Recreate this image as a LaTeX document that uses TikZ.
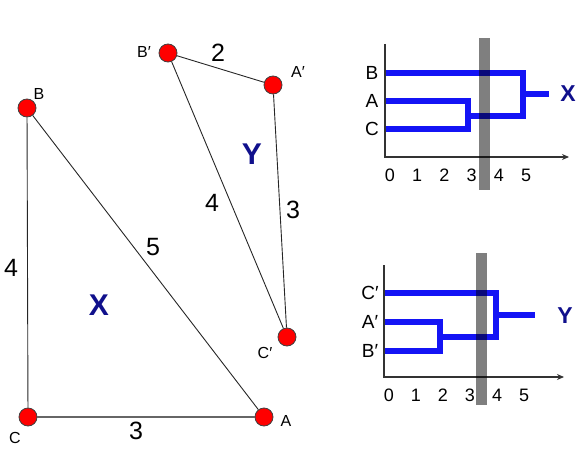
\documentclass[tikz,border=0pt]{standalone}
\usepackage{fontspec}
\setmainfont{Liberation Sans}
\usetikzlibrary{arrows.meta}

\definecolor{navy}{RGB}{16,16,140}
\definecolor{treeblue}{RGB}{20,20,245}

\tikzset{
	dot/.style={circle,fill=red,draw=black!75,line width=0.8pt,inner sep=0pt,minimum size=18pt},
	edge/.style={line width=0.9pt,draw=black!85},
	ptlabel/.style={inner sep=0pt,font=\fontsize{16}{16}\selectfont},
	dist/.style={inner sep=0pt,font=\fontsize{25}{25}\selectfont},
	grp/.style={inner sep=0pt,text=navy,font=\fontsize{30}{30}\selectfont\bfseries},
	treelabel/.style={inner sep=0pt,font=\fontsize{19}{19}\selectfont},
	ticklabel/.style={inner sep=0pt,font=\fontsize{18}{18}\selectfont},
	tree/.style={line width=6pt,draw=treeblue},
	axis/.style={line width=2.2pt,draw=black!80},
	cut/.style={fill=black,opacity=0.5},
}

\begin{document}
\begin{tikzpicture}[x=1pt,y=-1pt]
			\useasboundingbox (0,0) rectangle (581,452);
			
			% triangle X
			\node[dot] (B) at (27,108) {};
			\node[dot] (C) at (28,417) {};
			\node[dot] (A) at (264,417) {};
			\draw[edge] (B) -- (C);
			\draw[edge] (B) -- (A);
			\draw[line width=1.6pt,black!60] (C) -- (A);
			\node[ptlabel] (labB) at (39,94) {B};
			\node[ptlabel] (labC) at (15,438) {C};
			\node[ptlabel] (labA) at (286,421) {A};
			\node[dist] (dBC) at (11,268) {4};
			\node[dist] (dBA) at (153,247) {5};
			\node[dist] (dCA) at (136,431) {3};
			\node[grp] (grpX) at (99,305) {X};
			
			% triangle Y
			\node[dot] (Bp) at (168,53) {};
			\node[dot] (Ap) at (273,85) {};
			\node[dot] (Cp) at (287,337) {};
			\draw[edge] (Bp) -- (Ap);
			\draw[edge] (Bp) -- (Cp);
			\draw[edge] (Ap) -- (Cp);
			\node[ptlabel] (labBp) at (144,52) {B′};
			\node[ptlabel] (labAp) at (298,72) {A′};
			\node[ptlabel] (labCp) at (265,353) {C′};
			\node[dist] (dBpAp) at (218,53) {2};
			\node[dist] (dBpCp) at (212,203) {4};
			\node[dist] (dApCp) at (293,210) {3};
			\node[grp] (grpY) at (252,154) {Y};
			
			% dendrogram of X
			\draw[axis,-{Stealth[length=7pt,width=6pt]}] (385,44) -- (385,157) -- (569,157);
			\draw[tree] (386,73) -- (523,73) -- (523,116) -- (468,116);
			\draw[tree] (386,101) -- (468,101) -- (468,129) -- (386,129);
			\draw[tree] (523,94) -- (549,94);
			\fill[cut] (479,38) rectangle (490,190);
			\node[treelabel] (tB) at (372,73) {B};
			\node[treelabel] (tA) at (372,101) {A};
			\node[treelabel] (tC) at (372,129) {C};
			\foreach \v in {0,...,5}
				\node[ticklabel] (tx\v) at (390+27.2*\v,175) {\v};
			\node[grp,font=\fontsize{23}{23}\selectfont\bfseries] (treeX) at (568,94) {X};
			
			% dendrogram of Y
			\draw[axis,-{Stealth[length=7pt,width=6pt]}] (384,265) -- (384,377) -- (564,377);
			\draw[tree] (385,293) -- (496,293) -- (496,337) -- (440,337);
			\draw[tree] (385,322) -- (440,322) -- (440,351) -- (385,351);
			\draw[tree] (496,315) -- (535,315);
			\fill[cut] (476,253) rectangle (487,405);
			\node[treelabel] (tCp) at (370,293) {C′};
			\node[treelabel] (tAp) at (370,322) {A′};
			\node[treelabel] (tBp) at (370,351) {B′};
			\foreach \v in {0,...,5}
				\node[ticklabel] (ty\v) at (389+27*\v,395) {\v};
			\node[grp,font=\fontsize{23}{23}\selectfont\bfseries] (treeY) at (565,316) {Y};
		\end{tikzpicture}
\end{document}
